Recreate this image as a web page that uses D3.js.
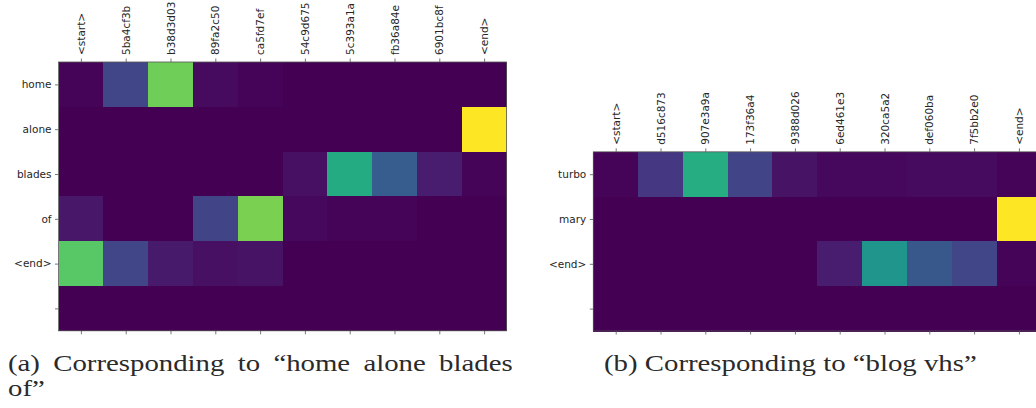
<!DOCTYPE html>
<html>
<head>
<meta charset="utf-8">
<script src="https://cdn.jsdelivr.net/npm/d3@7"></script>
<style>
  body { margin: 0; background: #fff; }
  .tick text { font-family: "DejaVu Sans", sans-serif; font-size: 10.5px; fill: #262626; }
  .caption { font-family: "Liberation Serif", "DejaVu Serif", serif; font-size: 24px; fill: #2a2a2a; }
</style>
</head>
<body>
<div id="fig"></div>
<script>
// panel (a)
var colsA = ["<start>","5ba4cf3b","b38d3d03","89fa2c50","ca5fd7ef","54c9d675","5c393a1a","fb36a84e","6901bc8f","<end>"];
var rowsA = ["home","alone","blades","of","<end>",""];
var valsA = [
  [0.01,0.21,0.78,0.03,0.01,0.00,0.00,0.00,0.00,0.00],
  [0.00,0.00,0.00,0.00,0.00,0.00,0.00,0.00,0.00,1.00],
  [0.00,0.00,0.00,0.00,0.00,0.04,0.61,0.29,0.08,0.01],
  [0.06,0.00,0.00,0.20,0.80,0.02,0.01,0.01,0.00,0.00],
  [0.74,0.21,0.07,0.04,0.05,0.00,0.00,0.00,0.00,0.00],
  [0.00,0.00,0.00,0.00,0.00,0.00,0.00,0.00,0.00,0.00]
];
// panel (b)
var colsB = ["<start>","d516c873","907e3a9a","173f36a4","9388d026","6ed461e3","320ca5a2","def060ba","7f5bb2e0","<end>"];
var rowsB = ["turbo","mary","<end>",""];
var valsB = [
  [0.01,0.16,0.62,0.20,0.05,0.02,0.02,0.03,0.03,0.01],
  [0.00,0.00,0.00,0.00,0.00,0.00,0.00,0.00,0.00,1.00],
  [0.00,0.00,0.00,0.00,0.00,0.08,0.52,0.27,0.21,0.01],
  [0.00,0.00,0.00,0.00,0.00,0.00,0.00,0.00,0.00,0.00]
];
var captionA = ["(a) Corresponding to \u201chome alone blades", "of\u201d"];
var captionB = ["(b) Corresponding to \u201cblog vhs\u201d"];

var W = 1036, H = 408;
var svg = d3.select('#fig').append('svg')
    .attr('width', W)
    .attr('height', H);

var color = d3.scaleSequential(d3.interpolateViridis).domain([0, 1]);
var cell = 44.8;

heatmap(58.5, 62, colsA, rowsA, valsA);
heatmap(593.3, 151.8, colsB, rowsB, valsB);

function heatmap(x0, y0, cols, rows, vals) {
    var g = svg.append('g').attr('transform', 'translate(' + x0 + ',' + y0 + ')');
    var x = d3.scaleBand().domain(d3.range(cols.length)).range([0, cols.length * cell]);
    var y = d3.scaleBand().domain(d3.range(rows.length)).range([0, rows.length * cell]);

    vals.forEach(function (row, i) {
        g.selectAll(null).data(row).enter().append('rect')
            .attr('x', function (d, j) { return x(j); })
            .attr('y', y(i))
            .attr('width', x.bandwidth() + 0.5)
            .attr('height', y.bandwidth() + 0.5)
            .attr('shape-rendering', 'crispEdges')
            .attr('fill', function (d) { return color(d); });
    });

    // frame
    g.append('rect')
        .attr('x', 0).attr('y', 0)
        .attr('width', x.range()[1]).attr('height', y.range()[1])
        .attr('fill', 'none')
        .attr('stroke', '#555')
        .attr('stroke-width', 0.8);

    var xc = d3.scaleLinear().domain([0, cols.length]).range(x.range());
    var yc = d3.scaleLinear().domain([0, rows.length]).range(y.range());

    var top = g.append('g')
        .call(d3.axisTop(xc).tickValues(d3.range(cols.length).map(function (d) { return d + 0.5; }))
            .tickFormat(function (d) { return cols[Math.floor(d)]; })
            .tickSize(3.5).tickPadding(3.5));
    top.select('.domain').remove();
    top.selectAll('.tick text')
        .attr('transform', 'rotate(-90)')
        .attr('x', 7).attr('y', 0)
        .attr('dy', '0.35em')
        .style('text-anchor', 'start');

    var bottom = g.append('g')
        .attr('transform', 'translate(0,' + y.range()[1] + ')')
        .call(d3.axisBottom(xc).tickValues(d3.range(cols.length).map(function (d) { return d + 0.5; }))
            .tickFormat('').tickSize(3.5));
    bottom.select('.domain').remove();

    var left = g.append('g')
        .call(d3.axisLeft(yc).tickValues(d3.range(rows.length).map(function (d) { return d + 0.5; }))
            .tickFormat(function (d) { return rows[Math.floor(d)]; })
            .tickSize(3.5).tickPadding(3.5));
    left.select('.domain').remove();

    svg.selectAll('.tick line').attr('stroke', '#555').attr('stroke-width', 0.8);
}

// captions: stretch the serif face horizontally toward the wider original glyphs
function caption(x, y, t) {
    var g = svg.append('g').attr('transform', 'translate(' + x + ',' + y + ')');
    var txt = g.append('text').attr('class', 'caption').attr('x', 0).attr('y', 0).text(t);
    return { g: g, txt: txt, w: txt.node().getComputedTextLength() };
}
var cb = caption(604, 371, captionB[0]);
var sx = (977 - 604) / cb.w;
cb.g.attr('transform', 'translate(604,371) scale(' + sx + ',1)');

captionA.forEach(function (t, i) {
    var c = caption(8, 371 + i * 24.5, t);
    c.g.attr('transform', 'translate(8,' + (371 + i * 24.5) + ') scale(' + sx + ',1)');
    if (i === 0) {
        var spaces = t.split(' ').length - 1;
        c.txt.style('word-spacing', (((513 - 8) / sx - c.w) / spaces) + 'px');
    }
});
</script>
</body>
</html>
